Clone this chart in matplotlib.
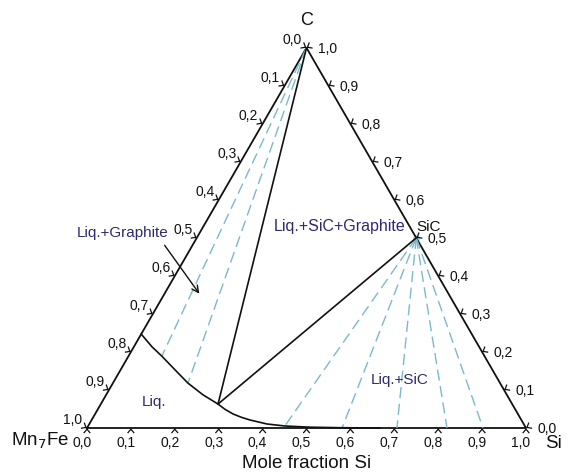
import numpy as np
import matplotlib
matplotlib.use("Agg")
import matplotlib.pyplot as plt

plt.rcParams['font.family'] = ['Liberation Sans', 'DejaVu Sans']

# ---------------- data (ternary: mole fraction Si, mole fraction C) ----------------
tick_values = [0.0, 0.1, 0.2, 0.3, 0.4, 0.5, 0.6, 0.7, 0.8, 0.9, 1.0]
tick_labels = ['0,0', '0,1', '0,2', '0,3', '0,4', '0,5', '0,6', '0,7', '0,8', '0,9', '1,0']

# liquidus curve
curve_si = [0.0, 0.042, 0.076, 0.124, 0.171, 0.221, 0.267, 0.290, 0.314, 0.338, 0.361, 0.405, 0.448, 0.507, 0.576, 0.667]
curve_c = [0.247, 0.213, 0.189, 0.153, 0.118, 0.087, 0.063, 0.049, 0.037, 0.028, 0.021, 0.0105, 0.0053, 0.0021, 0.0008, 0.0]

# invariant points
triple_si, triple_c = 0.267, 0.063
sic_si, sic_c = 0.5, 0.5
graphite_si, graphite_c = 0.0, 1.0

# tie lines Liq.+Graphite (liquid ends)
tie_gr_si = [0.076, 0.171]
tie_gr_c = [0.189, 0.118]
# tie lines Liq.+SiC (liquid ends)
tie_sic_si = [0.448, 0.581, 0.706, 0.820, 0.902]
tie_sic_c = [0.0053, 0.0, 0.0, 0.0, 0.0]

# ---------------- helpers ----------------
S3 = np.sqrt(3) / 2
PX = 1 / 439.0  # data units per pixel


def xy(si, c):
    si = np.asarray(si, dtype=float)
    c = np.asarray(c, dtype=float)
    return si + c / 2, c * S3


fig = plt.figure(figsize=(5.68, 4.73), dpi=100)
ax = fig.add_axes([0, 0, 1, 1])
ax.set_xlim(-87 * PX, (568 - 87) * PX)
ax.set_ylim(-(473 - 428) * PX, 428 * PX)
ax.axis('off')

black = '#111111'
navy = '#2d2a6e'
cyan = '#7cb9cb'

# triangle
tx, ty = xy([0, 1, 0, 0], [0, 0, 1, 0])
ax.plot(tx, ty, color=black, lw=1.3, solid_joinstyle='miter')

# tie lines (dashed)
gx, gy = xy(graphite_si, graphite_c)
for s, c in zip(tie_gr_si, tie_gr_c):
    x1, y1 = xy(s, c)
    ax.plot([gx, x1], [gy, y1], color=cyan, lw=1.0, dashes=(8, 4))
sx, sy = xy(sic_si, sic_c)
for s, c in zip(tie_sic_si, tie_sic_c):
    x1, y1 = xy(s, c)
    ax.plot([sx, x1], [sy, y1], color=cyan, lw=1.0, dashes=(8, 4))
ax.plot([sx], [sy], 'o', color='#a9d8e4', ms=5, mec='none', zorder=1)

# phase boundaries
cx, cy = xy(curve_si, curve_c)
ax.plot(cx, cy, color=black, lw=1.2)
trx, try_ = xy(triple_si, triple_c)
ax.plot([gx, trx], [gy, try_], color=black, lw=1.2)
ax.plot([sx, trx], [sy, try_], color=black, lw=1.2)


# ticks (chevrons outside the edges) and labels
def chevron(px_, py_, n):
    n = np.array(n) / np.linalg.norm(n)
    apex = np.array([px_, py_]) + n * 1.2 * PX
    for ang in (np.radians(40), -np.radians(40)):
        rot = np.array([[np.cos(ang), -np.sin(ang)], [np.sin(ang), np.cos(ang)]])
        d = rot @ n
        end = apex + d * 4.5 * PX
        ax.plot([apex[0], end[0]], [apex[1], end[1]], color=black, lw=0.9)


TFS = 10
for v, lab in zip(tick_values, tick_labels):
    # bottom edge: mole fraction Si
    bx, by = xy(v, 0)
    chevron(bx, by, (0, -1))
    ax.text(bx - 5 * PX, by - 15 * PX, lab, ha='center', va='center', fontsize=TFS, color=black)
    # left edge: mole fraction Mn7Fe (0 at C, 1 at Mn7Fe)
    lx, ly = xy(0, 1 - v)
    chevron(lx, ly, (-S3, 0.5))
    ax.text(lx - 14 * PX, ly + 8 * PX, lab, ha='center', va='center', fontsize=TFS, color=black)
    # right edge: mole fraction C
    rx, ry = xy(1 - v, v)
    chevron(rx, ry, (S3, 0.5))
    ax.text(rx + 11 * PX, ry - 1 * PX, lab, ha='left', va='center', fontsize=TFS, color=black)

# corner and axis labels
ax.text(gx, gy + 27 * PX, 'C', ha='center', va='center', fontsize=13, color=black)
ax.text(xy(0, 0)[0] - 47 * PX, -13 * PX, r'Mn$_7$Fe', ha='center', va='center', fontsize=13.5, color=black)
ax.text(xy(1, 0)[0] + 27 * PX, -15 * PX, 'Si', ha='center', va='center', fontsize=13.5, color=black)
ax.text(0.5, -35 * PX, 'Mole fraction Si', ha='center', va='center', fontsize=13.5, color=black)
ax.text(sx + 12 * PX, sy + 11 * PX, 'SiC', ha='center', va='center', fontsize=11, color=black)

# phase region labels
ax.text((123 - 87) * PX, (428 - 233) * PX, 'Liq.+Graphite', ha='center', va='center', fontsize=11, color=navy)
ax.text((340 - 87) * PX, (428 - 226) * PX, 'Liq.+SiC+Graphite', ha='center', va='center', fontsize=11.5, color=navy)
ax.text((400 - 87) * PX, (428 - 380) * PX, 'Liq.+SiC', ha='center', va='center', fontsize=11, color=navy)
ax.text((154 - 87) * PX, (428 - 402) * PX, 'Liq.', ha='center', va='center', fontsize=11, color=navy)

ax.annotate('', xy=((201 - 87) * PX, (428 - 296) * PX), xytext=((163 - 87) * PX, (428 - 243) * PX),
            arrowprops=dict(arrowstyle='->', color=black, lw=1.0, mutation_scale=12))

fig.savefig('out.png', dpi=100)
